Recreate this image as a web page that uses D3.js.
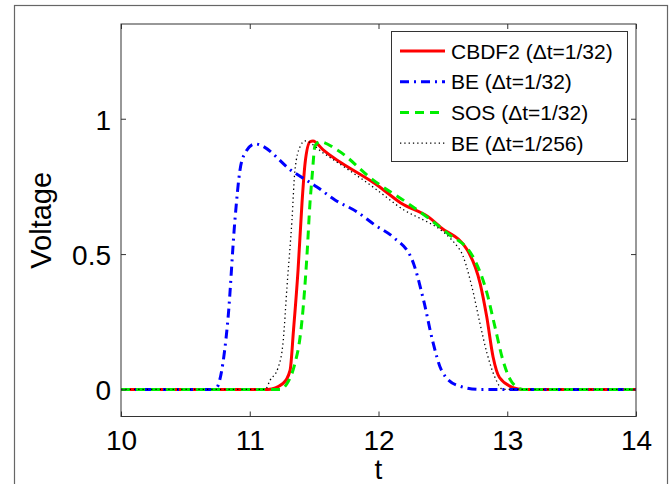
<!DOCTYPE html>
<html>
<head>
<meta charset="utf-8">
<script src="https://cdn.jsdelivr.net/npm/d3@7"></script>
<style>
  body { margin: 0; background: #fff; }
  svg text { font-family: "Liberation Sans", Arial, sans-serif; fill: #000; }
</style>
</head>
<body>
<div id="chart"></div>
<script>
const svgWidth = 669
const svgHeight = 484

// curves (t, voltage)
const cbdf2T = [10, 11.14, 11.258, 11.313, 11.34, 11.375, 11.406, 11.43, 11.468, 11.491, 11.57, 12.01, 12.17, 12.4, 12.48, 12.69, 12.79, 12.84, 12.89, 12.94, 13.045, 13.12, 14]
const cbdf2V = [0, 0, 0.022, 0.07, 0.22, 0.44, 0.69, 0.837, 0.915, 0.918, 0.885, 0.748, 0.69, 0.633, 0.6, 0.515, 0.39, 0.27, 0.12, 0.044, 0.007, 0, 0]

const be32T = [10, 10.73, 10.83, 10.885, 10.924, 10.96, 11.04, 11.336, 11.522, 11.662, 11.833, 11.973, 12.113, 12.26, 12.35, 12.42, 12.49, 12.61, 12.79, 14]
const be32V = [0, 0, 0.256, 0.626, 0.81, 0.87, 0.907, 0.804, 0.748, 0.7, 0.656, 0.607, 0.563, 0.48, 0.33, 0.18, 0.07, 0.015, 0, 0]

const sosT = [10, 11.235, 11.29, 11.351, 11.39, 11.406, 11.445, 11.468, 11.484, 11.507, 11.546, 11.678, 11.957, 12.221, 12.532, 12.734, 12.843, 12.905, 12.967, 13.037, 13.122, 14]
const sosV = [0, 0, 0.022, 0.096, 0.19, 0.256, 0.5, 0.69, 0.785, 0.9, 0.915, 0.885, 0.774, 0.69, 0.578, 0.49, 0.355, 0.23, 0.107, 0.026, 0, 0]

const be256T = [10, 11.12, 11.157, 11.22, 11.26, 11.289, 11.328, 11.351, 11.39, 11.429, 11.569, 11.988, 12.144, 12.633, 12.726, 12.788, 12.843, 12.905, 12.967, 14]
const be256V = [0, 0, 0.033, 0.08, 0.18, 0.378, 0.626, 0.81, 0.896, 0.918, 0.874, 0.737, 0.68, 0.515, 0.378, 0.244, 0.133, 0.044, 0, 0]

const xTicks = [10, 11, 12, 13, 14]
const yTicks = [0, 0.5, 1]
const legendLabels = ["CBDF2 (\u0394t=1/32)", "BE (\u0394t=1/32)", "SOS (\u0394t=1/32)", "BE (\u0394t=1/256)"]

let plot = { left: 121, right: 636, top: 24, bottom: 416.5 }

let svg = d3.select("#chart")
  .append("svg")
  .attr("width", svgWidth)
  .attr("height", svgHeight)

// outer figure frame
svg.append("rect")
  .attr("x", 14.5).attr("y", 5.5)
  .attr("width", 653).attr("height", 500)
  .attr("fill", "#fff")
  .attr("stroke", "#666")
  .attr("stroke-width", 1.2)

let x = d3.scaleLinear().domain([10, 14]).range([plot.left, plot.right])
let y = d3.scaleLinear().domain([-0.1, 1.35]).range([plot.bottom, plot.top])

let series = [
  { t: cbdf2T, v: cbdf2V, color: "#ff0000", width: 3, dash: null },
  { t: be32T, v: be32V, color: "#0000ff", width: 3, dash: "9,5,2,5" },
  { t: sosT, v: sosV, color: "#00ee00", width: 3, dash: "9,6" },
  { t: be256T, v: be256V, color: "#000", width: 1.3, dash: "1.3,3" }
]

let line = d3.line()
  .x(d => x(d[0]))
  .y(d => y(d[1]))
  .curve(d3.curveMonotoneX)

svg.append("clipPath").attr("id", "clip")
  .append("rect")
  .attr("x", plot.left).attr("y", plot.top)
  .attr("width", plot.right - plot.left).attr("height", plot.bottom - plot.top)

let curves = svg.append("g").attr("clip-path", "url(#clip)")

series.forEach(s => {
  curves.append("path")
    .datum(s.t.map((t, i) => [t, s.v[i]]))
    .attr("fill", "none")
    .attr("stroke", s.color)
    .attr("stroke-width", s.width)
    .attr("stroke-dasharray", s.dash)
    .attr("d", line)
})

// axes box with inward ticks on all four sides
let bottomAxis = d3.axisBottom(x).tickValues(xTicks).tickSize(-5).tickFormat(d3.format("d"))
let topAxis = d3.axisTop(x).tickValues(xTicks).tickSize(-5).tickFormat("")
let leftAxis = d3.axisLeft(y).tickValues(yTicks).tickSize(-5).tickPadding(10).tickFormat(d => d === 0.5 ? "0.5" : d3.format("d")(d))
let rightAxis = d3.axisRight(y).tickValues(yTicks).tickSize(-5).tickFormat("")

function styleAxis(g) {
  g.select(".domain").remove()
  g.selectAll("line").attr("stroke", "#333")
  g.selectAll("text").attr("font-size", 28).attr("font-family", "Liberation Sans, Arial, sans-serif").attr("fill", "#000")
}

svg.append("g").attr("transform", `translate(0,${plot.bottom})`).call(bottomAxis).call(styleAxis)
  .selectAll("text").attr("dy", "0.71em").attr("y", 14)
svg.append("g").attr("transform", `translate(0,${plot.top})`).call(topAxis).call(styleAxis)
svg.append("g").attr("transform", `translate(${plot.left},0)`).call(leftAxis).call(styleAxis)
  .selectAll("text").attr("dy", "0.37em")
svg.append("g").attr("transform", `translate(${plot.right},0)`).call(rightAxis).call(styleAxis)

svg.append("rect")
  .attr("x", plot.left).attr("y", plot.top)
  .attr("width", plot.right - plot.left).attr("height", plot.bottom - plot.top)
  .attr("fill", "none")
  .attr("stroke", "#333")
  .attr("stroke-width", 1)

// axis titles
svg.append("text")
  .attr("x", (plot.left + plot.right) / 2)
  .attr("y", 479)
  .attr("text-anchor", "middle")
  .attr("font-size", 28)
  .text("t")

svg.append("text")
  .attr("transform", `translate(51,${(plot.top + plot.bottom) / 2})rotate(-90)`)
  .attr("text-anchor", "middle")
  .attr("font-size", 29)
  .text("Voltage")

// legend
let legend = svg.append("g")
legend.append("rect")
  .attr("x", 391.5).attr("y", 31.5)
  .attr("width", 236).attr("height", 130)
  .attr("fill", "#fff")
  .attr("stroke", "#333")
  .attr("stroke-width", 1)

series.forEach((s, i) => {
  let ly = 51 + i * 30.7
  legend.append("line")
    .attr("x1", 400).attr("x2", 445)
    .attr("y1", ly).attr("y2", ly)
    .attr("stroke", s.color)
    .attr("stroke-width", s.width)
    .attr("stroke-dasharray", s.dash)
  legend.append("text")
    .attr("x", 451)
    .attr("y", ly)
    .attr("dy", "0.36em")
    .attr("font-size", 21)
    .text(legendLabels[i])
})
</script>
</body>
</html>
